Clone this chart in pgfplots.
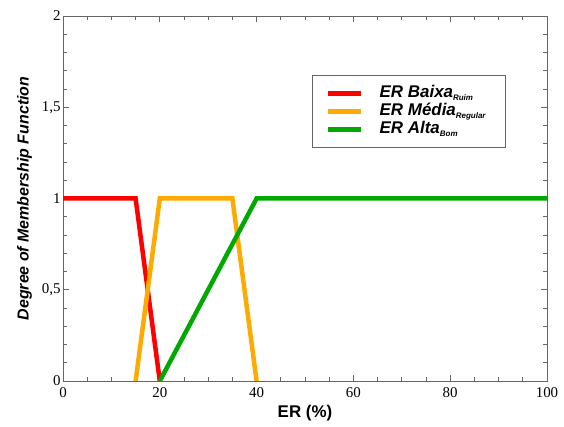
\documentclass[border=0pt]{standalone}
\usepackage{pgfplots}
\pgfplotsset{compat=1.18}
\usepackage{fontspec}
\setmainfont{Liberation Sans}
\newfontfamily\tickfont{Liberation Serif}
\definecolor{cred}{RGB}{255,0,0}
\definecolor{corange}{RGB}{255,170,0}
\definecolor{cgreen}{RGB}{0,168,0}
\newcommand{\sub}[1]{\raisebox{-2.5bp}{\fontsize{8}{8}\selectfont #1}\hspace*{5bp}}
\begin{document}
\begin{tikzpicture}
\begin{axis}[
  scale only axis,
  width=484bp, height=365bp,
  xmin=0, xmax=100, ymin=0, ymax=2,
  xtick={0,20,...,100},
  ytick={0,0.5,1,1.5,2},
  minor x tick num=3,
  minor y tick num=4,
  tick align=inside,
  major tick length=6bp,
  minor tick length=4bp,
  axis line style={draw=gray!80!black, line width=0.9pt},
  every tick/.style={draw=gray!80!black, line width=0.7pt},
  /pgf/number format/assume math mode=true,
  /pgf/number format/use comma,
  ticklabel style={font=\tickfont\fontsize{15}{15}\selectfont},
  xticklabel style={yshift=-3bp},
  yticklabel style={xshift=1bp},
  xlabel={\textbf{ER (\%)}},
  ylabel={\textbf{\itshape Degree of Membership Function}},
  xlabel style={font=\fontsize{17}{17}\selectfont, yshift=-1bp},
  ylabel style={font=\fontsize{16}{16}\selectfont, yshift=3bp},
  legend style={at={(0.514,0.838)}, anchor=north west, draw=gray!80!black, line width=0.8pt,
    font=\fontsize{17}{18}\selectfont\bfseries\itshape, inner xsep=14bp, inner ysep=9bp,
    row sep=0bp, column sep=15bp,
    nodes={inner sep=1bp, text height=12bp, text depth=4bp}},
  legend cell align=left,
  legend image code/.code={\draw[#1, line width=4.5bp] (0bp,0bp) -- (33bp,0bp);},
]
\addplot[cred, line width=4.5bp] coordinates {(0,1) (15,1) (20,0)};
\addlegendentry{ER Baixa\sub{Ruim}}
\addplot[corange, line width=4.5bp] coordinates {(15,0) (20,1) (35,1) (40,0)};
\addlegendentry{ER Média\sub{Regular}}
\addplot[cgreen, line width=4.5bp] coordinates {(20,0) (40,1) (100,1)};
\addlegendentry{ER Alta\sub{Bom}}
\end{axis}
\path (current axis.south west) ++(-63bp,-46bp);
\path (current axis.north east) ++(17bp,16bp);
\end{tikzpicture}
\end{document}
